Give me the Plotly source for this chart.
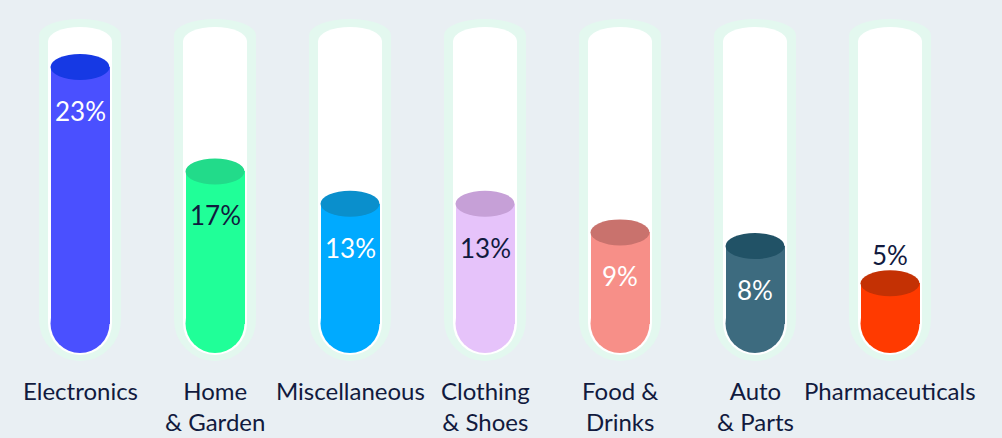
import plotly.graph_objects as go

# ---- data ----
categories = ["Electronics", "Home<br>& Garden", "Miscellaneous", "Clothing<br>& Shoes",
              "Food &<br>Drinks", "Auto<br>& Parts", "Pharmaceuticals"]
value_labels = ["23%", "17%", "13%", "13%", "9%", "8%", "5%"]
# fill level of each tube, as drawn (axis units, % scale)
fill_levels = [23.0, 14.6, 12.0, 12.0, 9.7, 8.6, 5.6]

# ---- styles ----
body_colors = ["#4a50ff", "#20ff98", "#00aaff", "#e6c3fa", "#f78f88", "#3d6b7f", "#ff3a00"]
top_colors = ["#1639e4", "#22db8a", "#0a8fcc", "#c6a0d7", "#c9726d", "#215266", "#c43104"]
label_colors = ["#ffffff", "#111a3e", "#ffffff", "#111a3e", "#ffffff", "#ffffff", "#111a3e"]
BG = "#e9eff3"
GLOW = "#e3f8ef"
TEXT = "#111a3e"

W, H = 1002, 438
PX_X = 135.0          # pixels per category step
PX_Y = 12.435         # pixels per axis unit
X0_PX = 80.0          # pixel x of first category
Y0_PX = 353.0         # pixel y of axis zero

xr = [-X0_PX / PX_X, (W - X0_PX) / PX_X]
yr = [-(H - Y0_PX) / PX_Y, Y0_PX / PX_Y]

def ux(px):
    return px / PX_X

def uy(px):
    return px / PX_Y

shapes = []
n = len(categories)
for i in range(n):
    # outer glow
    gw = ux(41)
    g_top = uy(353 - 35)
    g_bot = uy(353 - 320)
    shapes.append(dict(type="rect", xref="x", yref="y", x0=i - gw, x1=i + gw, y0=g_bot, y1=g_top,
                       fillcolor=GLOW, line_width=0, layer="below"))
    shapes.append(dict(type="circle", xref="x", yref="y", x0=i - gw, x1=i + gw,
                       y0=g_top - uy(16), y1=g_top + uy(16), fillcolor=GLOW, line_width=0, layer="below"))
    shapes.append(dict(type="circle", xref="x", yref="y", x0=i - gw, x1=i + gw,
                       y0=g_bot - uy(41), y1=g_bot + uy(41), fillcolor=GLOW, line_width=0, layer="below"))
    # white tube
    tw = ux(32)
    t_top = uy(353 - 41)
    t_bot = uy(353 - 323)
    shapes.append(dict(type="rect", xref="x", yref="y", x0=i - tw, x1=i + tw, y0=t_bot, y1=t_top,
                       fillcolor="white", line_width=0, layer="below"))
    shapes.append(dict(type="circle", xref="x", yref="y", x0=i - tw, x1=i + tw,
                       y0=t_top - uy(14), y1=t_top + uy(14), fillcolor="white", line_width=0, layer="below"))
    shapes.append(dict(type="circle", xref="x", yref="y", x0=i - tw, x1=i + tw,
                       y0=t_bot - uy(32), y1=t_bot + uy(32), fillcolor="white", line_width=0, layer="below"))

bw = ux(59)
b_base = uy(29.5)
for i in range(n):
    # rounded bottom of the liquid
    shapes.append(dict(type="circle", xref="x", yref="y", x0=i - bw / 2, x1=i + bw / 2,
                       y0=0, y1=2 * b_base, fillcolor=body_colors[i], line_width=0, layer="below"))
    # top ellipse of the liquid
    shapes.append(dict(type="circle", xref="x", yref="y", x0=i - bw / 2, x1=i + bw / 2,
                       y0=fill_levels[i] - uy(13), y1=fill_levels[i] + uy(13),
                       fillcolor=top_colors[i], line_width=0, layer="above"))

fig = go.Figure()
fig.add_trace(go.Bar(
    x=list(range(n)),
    y=[v - b_base for v in fill_levels],
    base=[b_base] * n,
    width=bw,
    marker=dict(color=body_colors, line_width=0),
    hoverinfo="skip",
    showlegend=False,
))

annotations = []
for i in range(n):
    inside = fill_levels[i] > 7
    ylab = fill_levels[i] - uy(44) if inside else fill_levels[i] + uy(28)
    annotations.append(dict(x=i, y=ylab, xref="x", yref="y", text=value_labels[i], showarrow=False,
                            font=dict(family="Lato", size=26, color=label_colors[i]),
                            xanchor="center", yanchor="middle"))
    annotations.append(dict(x=i, y=-uy(22), xref="x", yref="y", text=categories[i], showarrow=False,
                            font=dict(family="Lato", size=24, color=TEXT), borderpad=0,
                            xanchor="center", yanchor="top", align="center"))

fig.update_layout(
    width=W, height=H,
    margin=dict(l=0, r=0, t=0, b=0, pad=0),
    paper_bgcolor=BG, plot_bgcolor=BG,
    xaxis=dict(range=xr, visible=False, fixedrange=True),
    yaxis=dict(range=yr, visible=False, fixedrange=True),
    shapes=shapes,
    annotations=annotations,
    bargap=0,
)

fig.write_html("out.html", post_script="document.body.style.margin='0';document.body.style.background='%s';" % BG,
               config={"displayModeBar": False})
